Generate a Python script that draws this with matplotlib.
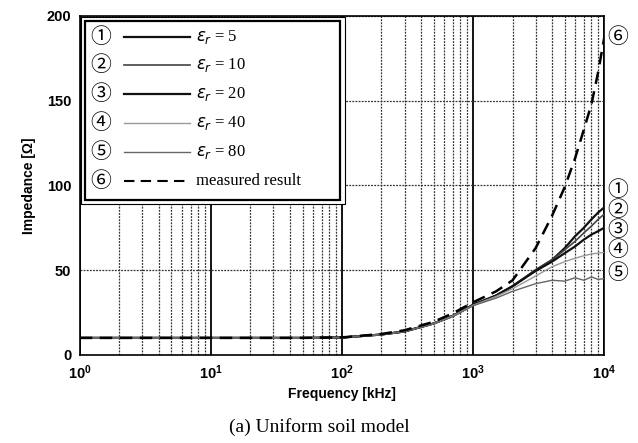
import matplotlib
matplotlib.use("Agg")
import matplotlib.pyplot as plt
from matplotlib.patches import Rectangle
from matplotlib.lines import Line2D

# frequency points [kHz]
freq = [1, 2, 5, 10, 20, 50, 100, 200, 300, 500, 700, 1000, 1500, 2000,
        3000, 4000, 5000, 6000, 7000, 8000, 9000, 10000]

# impedance [ohm] for each relative permittivity
z_er5 = [10, 10, 10, 10, 10, 10, 10.2, 12, 13.8, 18.5, 23, 29.5, 35, 40.5,
         50, 56, 63, 70, 75, 80, 84, 87]
z_er10 = [10, 10, 10, 10, 10, 10, 10.2, 12, 13.8, 18.5, 23, 29.5, 35, 40.5,
          50, 56, 62, 67, 72, 76, 80, 83]
z_er20 = [10, 10, 10, 10, 10, 10, 10.2, 12, 13.8, 18.5, 23, 29.5, 35, 40.5,
          49.5, 55, 60, 64, 68, 71, 73, 75]
z_er40 = [10, 10, 10, 10, 10, 10, 10.2, 12, 13.8, 18.5, 23, 29.3, 34.5, 39,
          46.5, 52, 55, 57, 58.5, 59.5, 60, 60.5]
z_er80 = [10, 10, 10, 10, 10, 10, 10.2, 12, 13.8, 18.3, 22.5, 29, 33.5, 37.5,
          42, 44, 43.5, 45.5, 44, 46, 44.5, 45]
z_meas = [10, 10, 10, 10, 10, 10, 10.3, 12.3, 14.5, 19.5, 24.5, 31, 37.5, 44,
          63, 82, 99, 116, 133, 148, 167, 187]

series = [z_er5, z_er10, z_er20, z_er40, z_er80]
eps_vals = [5, 10, 20, 40, 80]
colors = ["#111111", "#444444", "#111111", "#999999", "#666666"]
widths = [1.6, 1.2, 1.6, 1.0, 1.0]
circ = ["①", "②", "③", "④", "⑤", "⑥"]
cjk = ["Noto Sans CJK JP", "DejaVu Sans"]

fig = plt.figure(figsize=(6.38, 4.43), dpi=100)
ax = fig.add_axes([0.125, 0.199, 0.822, 0.765])

for z, c, lw in zip(series, colors, widths):
    ax.plot(freq, z, color=c, lw=lw, zorder=3)
ax.plot(freq, z_meas, color="black", lw=1.8, ls=(0, (5, 3)), zorder=4)

ax.set_xscale("log")
ax.set_xlim(1, 1e4)
ax.set_ylim(0, 200)
ax.set_yticks([0, 50, 100, 150, 200])
ax.grid(True, which="minor", axis="x", color="#333333", lw=0.9, ls=(0, (1.5, 1)))
ax.grid(True, which="major", axis="x", color="black", lw=1.3)
ax.grid(True, which="major", axis="y", color="#333333", lw=0.9, ls=(0, (1.5, 1)))
ax.tick_params(which="both", length=0, labelsize=10.5, pad=6)
for lab in ax.get_xticklabels() + ax.get_yticklabels():
    lab.set_fontfamily("Liberation Sans")
    lab.set_fontweight("bold")
for s in ax.spines.values():
    s.set_linewidth(1.2)

ax.set_xlabel("Frequency [kHz]", fontsize=10, fontweight="bold",
              family="Liberation Sans", labelpad=4)
ax.set_ylabel("Impedance [Ω]", fontsize=10, fontweight="bold",
              family="Liberation Sans", labelpad=8)
fig.text(0.5, 0.035, "(a) Uniform soil model", ha="center", va="center",
         fontsize=14, family="Liberation Serif")

# circled labels on the right side
for s, y in zip(circ, [190, 210, 230, 250, 273, 37]):
    fig.text(618 / 638, 1 - y / 443, s, ha="center", va="center", fontsize=15,
             family=cjk)

# legend box, drawn by hand
def fx(px):
    return (px - 80) / 524.0

def fy(py):
    return (355 - py) / 339.0

ax.add_patch(Rectangle((fx(81), fy(204)), fx(345) - fx(81), fy(17) - fy(204),
                       transform=ax.transAxes, facecolor="white",
                       edgecolor="black", lw=0.8, zorder=5))
ax.add_patch(Rectangle((fx(85), fy(200)), fx(340) - fx(85), fy(21) - fy(200),
                       transform=ax.transAxes, facecolor="white",
                       edgecolor="black", lw=1.6, zorder=6))
rows = [37, 65, 94, 123, 152, 181]
for i, py in enumerate(rows):
    ax.text(fx(101), fy(py), circ[i], transform=ax.transAxes, ha="center",
            va="center", fontsize=15, family=cjk, zorder=7)
    if i < 5:
        ax.add_line(Line2D([fx(124), fx(190)], [fy(py), fy(py)],
                           transform=ax.transAxes, color=colors[i],
                           lw=widths[i], zorder=7))
        ax.text(fx(196), fy(py), r"$\varepsilon_r$ = %d" % eps_vals[i],
                transform=ax.transAxes, ha="left", va="center", fontsize=12,
                family="Liberation Serif", zorder=7)
    else:
        ax.add_line(Line2D([fx(124), fx(190)], [fy(py), fy(py)],
                           transform=ax.transAxes, color="black", lw=1.5,
                           ls=(0, (5, 3)), zorder=7))
        ax.text(fx(196), fy(py), "measured result", transform=ax.transAxes,
                ha="left", va="center", fontsize=12,
                family="Liberation Serif", zorder=7)

fig.savefig("out.png", dpi=100)
